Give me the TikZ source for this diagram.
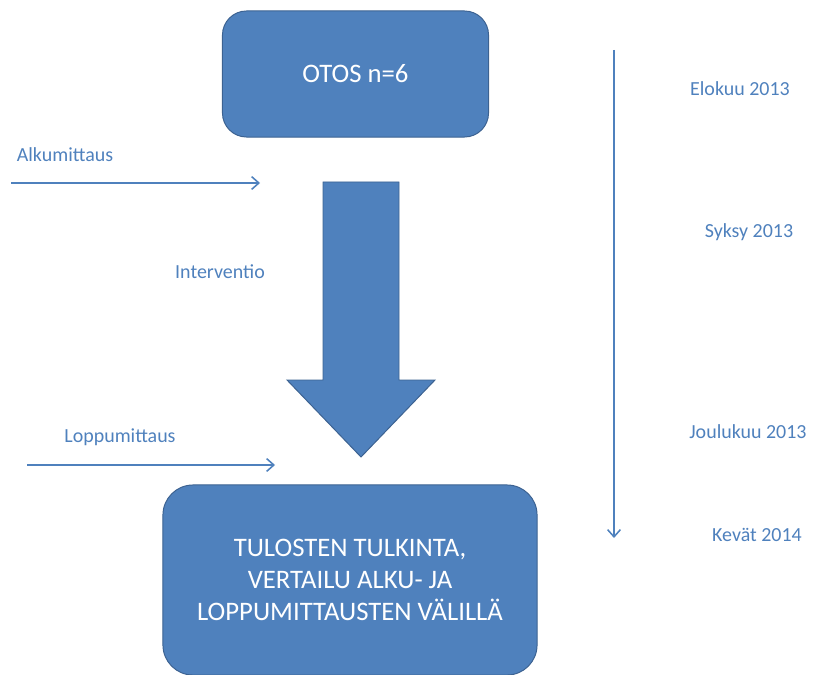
\documentclass[tikz,border=0pt]{standalone}
\usepackage{fontspec}
\setmainfont{Carlito}
\usetikzlibrary{arrows.meta,positioning}
\definecolor{OtosSini}{RGB}{79,129,189}
\definecolor{OtosReuna}{RGB}{60,98,145}
\tikzset{
  laatikko/.style={draw=OtosReuna, line width=0.7pt, rounded corners=#1, fill=OtosSini,
    text=white, align=center, font=\fontsize{19}{22.5}\selectfont, inner sep=3pt},
  laatikko/.default=0.6cm,
  isonuoli/.style={draw=OtosReuna, line width=0.7pt, fill=OtosSini},
  mittaus/.style={-{Straight Barb[length=1.8mm, width=3.2mm]}, line width=1.1pt, OtosSini},
  aikateksti/.style={text=OtosSini, font=\fontsize{14.2}{17}\selectfont, inner sep=1pt},
}

\begin{document}
\begin{tikzpicture}[x=0.025cm, y=-0.025cm]
    \useasboundingbox (0,0) rectangle (814,675);
    % laatikot
    \node[laatikko, minimum width=6.65cm, minimum height=3.15cm] (otos) at (355.5,74) {OTOS n=6};
    \node[laatikko=0.75cm, minimum width=9.35cm, minimum height=4.75cm] (tulos) at (350,580)
      {TULOSTEN TULKINTA,\\ VERTAILU ALKU- JA\\ LOPPUMITTAUSTEN V\"ALILL\"A};
    % interventio
    \filldraw[isonuoli] (323,182) -- (399,182) -- (399,380) -- (435,380) -- (361,457)
      -- (287,380) -- (323,380) -- cycle;
    \node[aikateksti] (interv) at (220,272) {Interventio};
    % mittaukset
    \coordinate (alku0) at (11,183);
    \coordinate (alku1) at (260,183);
    \node[aikateksti] (alku) at (65,155) {Alkumittaus};
    \draw[mittaus] (alku0) -- (alku1);
    \coordinate (loppu0) at (27,465);
    \coordinate (loppu1) at (275,465);
    \node[aikateksti] (loppu) at (120,437) {Loppumittaus};
    \draw[mittaus] (loppu0) -- (loppu1);
    % aikajana
    \coordinate (aika0) at (614,50);
    \coordinate (aika1) at (614,538);
    \draw[mittaus] (aika0) -- (aika1);
    \node[aikateksti] (elo) at (740,89) {Elokuu 2013};
    \node[aikateksti] (syksy) at (749,232) {Syksy 2013};
    \node[aikateksti] (joulu) at (748,432) {Joulukuu 2013};
    \node[aikateksti] (kevat) at (757,535) {Kev\"at 2014};
\end{tikzpicture}
\end{document}
